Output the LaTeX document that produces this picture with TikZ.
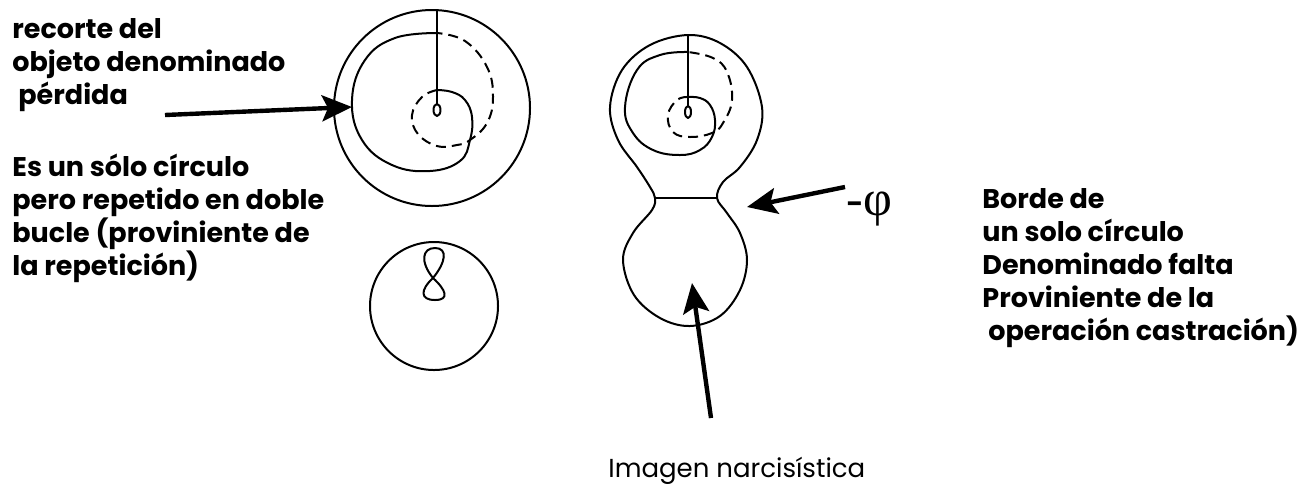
\documentclass[tikz,border=0pt]{standalone}
\usepackage{fontspec}
\setmainfont{Poppins}
\newfontfamily\greekfont{Liberation Serif}
\usetikzlibrary{arrows.meta}
\tikzset{
  >={Stealth[length=15pt,width=13pt,inset=3pt]},
  pointer/.style={->,line width=2.2pt},
  curve/.style={line width=1pt,line join=round},
  dashcurve/.style={curve,dash pattern=on 5pt off 3pt},
  note/.style={font=\fontsize{13.5}{16.5}\selectfont\bfseries,align=left,
    anchor=base west,inner sep=0pt},
}
\begin{document}
\begin{tikzpicture}[x=0.5pt,y=-0.5pt]
  \useasboundingbox (0,0) rectangle (1311,484);
  % left figure: double loop in a circle
  \draw[curve] (432,108) circle (98);
  \draw[curve] (437,10) -- (437,104);
  \draw[curve] (437,110) ellipse (3.5 and 6);
  \draw[curve] plot[smooth,tension=0.7] coordinates {(437,33) (395,38) (365,60) (352,100)
    (362,140) (392,165) (430,171) (460,161) (470,140) (472,117) (465,100) (452,92) (437,90)};
  \draw[dashcurve] plot[smooth,tension=0.7] coordinates {(437,90) (422,97) (412,115)
    (418,134) (437,146) (457,145) (470,140) (487,123) (493,97) (487,67) (465,41) (437,33)};
  % circle with the figure eight
  \draw[curve] (434,306) circle (64);
  \draw[curve] (433,278) .. controls (420,262) and (422,248) .. (435,248)
    .. controls (448,248) and (446,262) .. (433,278)
    .. controls (420,290) and (420,300) .. (435,300)
    .. controls (450,300) and (446,290) .. (433,278);
  % middle figure: two lobes
  \draw[curve] plot[smooth cycle,tension=0.6] coordinates {(688,35) (720,43) (747,67)
    (762,107) (757,140) (740,167) (723,182) (717,198) (727,213) (740,233) (747,260)
    (740,290) (720,316) (690,326) (660,318) (634,295) (623,260) (633,233) (652,210)
    (655,198) (650,187) (637,167) (618,140) (610,107) (622,70) (650,45)};
  \draw[curve] (655,198) -- (717,198);
  \draw[curve] (688,35) -- (688,106);
  \draw[curve] (688,112) ellipse (3 and 6);
  \draw[curve] plot[smooth,tension=0.7] coordinates {(688,52) (660,55) (637,70) (625,107)
    (633,133) (653,150) (680,155) (700,150) (712,137) (715,120) (710,105) (700,98) (688,97)};
  \draw[dashcurve] plot[smooth,tension=0.7] coordinates {(688,97) (677,100) (668,115)
    (673,132) (690,137) (712,133) (723,123) (732,100) (727,72) (713,58) (688,52)};
  % texts (base = last line)
  \node[note] (loss) at (12,104) {recorte del\\objeto denominado\\\hspace*{3pt}pérdida};
  \node[note] (repeat) at (12,275) {Es un sólo círculo\\pero repetido en doble\\bucle (proviniente de\\la repetición)};
  \node[note] (lack) at (982,340) {Borde de\\un solo círculo\\Denominado falta\\Proviniente de la\\\hspace*{3pt}operación castración)};
  \node[font=\fontsize{13}{16}\selectfont,anchor=base west,inner sep=0pt] (image) at (608,477) {Imagen narcisística};
  \node[font=\greekfont\fontsize{25}{25}\selectfont,anchor=base west,inner sep=0pt] (phi) at (846,215) {-φ};
  % pointers
  \coordinate (lossTail) at (165,115);
  \coordinate (lossTip) at (352,107);
  \coordinate (phiTail) at (845,187);
  \coordinate (phiTip) at (747,207);
  \coordinate (imageTail) at (711,418);
  \coordinate (imageTip) at (692,283);
  \draw[pointer] (lossTail) -- (lossTip);
  \draw[pointer] (phiTail) -- (phiTip);
  \draw[pointer] (imageTail) -- (imageTip);
\end{tikzpicture}
\end{document}
